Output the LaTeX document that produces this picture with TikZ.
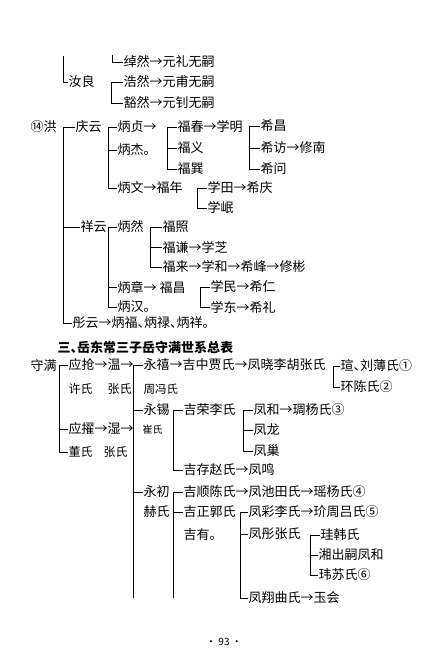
\documentclass[tikz,border=0pt]{standalone}
\usepackage{fontspec}
\setmainfont{Noto Sans CJK SC}
\usepackage{tikz}
\usetikzlibrary{calc}
% half-width enumeration comma
\newcommand\dun{\makebox[0.5em][l]{、}}

\begin{document}
\begin{tikzpicture}[
    x=1pt, y=-1pt,
    font=\fontsize{13}{15}\selectfont,
    % people, wives, bracket lines
    person/.style={anchor=west, inner sep=0.5pt},
    wife/.style={anchor=west, inner sep=0.5pt, font=\fontsize{12}{14}\selectfont},
    link/.style={draw, line width=0.9pt},
]
\useasboundingbox (0,0) rectangle (436,650);

% =========================================================
% Top: continued from the previous page
% =========================================================
\coordinate (topL) at (63,56);
\coordinate (topZ) at (112,55);
\node[person] (rl)  at (68,82)  {汝良};
\node[person] (zr)  at (123,62) {绰然→元礼无嗣};
\node[person] (hr)  at (123,82) {浩然→元甫无嗣};
\node[person] (hor) at (123,103) {豁然→元钊无嗣};

\coordinate (bRu) at (111,82);
\draw[link] (topL) |- (rl.west);
\draw[link] (topZ) |- (zr.west);
\draw[link] (hr.west) -- (bRu) |- (hor.west);

% =========================================================
% (14) Hong
% =========================================================
\node[person] (hong) at (30,127) {⑭洪};
\node[person] (qy) at (75,127) {庆云};
\node[person] (xy) at (80,227) {祥云};
\node[person] (ty) at (72,323) {彤云→炳福\dun 炳禄\dun 炳祥。};
\coordinate (bHong) at (63,127);
\draw[link] (qy.west) -- (bHong) |- (ty.west);
\draw[link] (xy.west) -- (xy.west -| bHong);

% sons of Qingyun
\node[person] (bzh) at (117,127) {炳贞→};
\node[person] (bj)  at (117,150) {炳杰。};
\node[person] (bw)  at (117,188) {炳文→福年};
\coordinate (bQing) at (108,127);
\draw[link] (bzh.west) -- (bQing) |- (bw.west);
\draw[link] (bj.west) -- (bj.west -| bQing);

% sons of Bingzhen
\node[person] (fc) at (177,127) {福春→学明};
\node[person] (fy) at (177,148) {福义};
\node[person] (fx) at (177,169) {福巽};
\coordinate (bFu) at (167,127);
\draw[link] (fc.west) -- (bFu) |- (fx.west);
\draw[link] (fy.west) -- (fy.west -| bFu);

% sons of Xueming
\node[person] (xc) at (260,126) {希昌};
\node[person] (xf) at (260,148) {希访→修南};
\node[person] (xw) at (260,169) {希问};
\coordinate (bXue) at (249,126);
\draw[link] (xc.west) -- (bXue) |- (xw.west);
\draw[link] (xf.west) -- (xf.west -| bXue);

% sons of Funian
\node[person] (xt)  at (207,188) {学田→希庆};
\node[person] (xmi) at (207,208) {学岷};
\coordinate (bNian) at (197,188);
\draw[link] (xt.west) -- (bNian) |- (xmi.west);

% sons of Xiangyun
\node[person] (br)  at (117,227) {炳然};
\node[person] (bzg) at (117,287) {炳章→ 福昌};
\node[person] (bh)  at (117,307) {炳汉。};
\coordinate (bXiang) at (108,227);
\draw[link] (br.west) -- (bXiang) |- (bh.west);
\draw[link] (bzg.west) -- (bzg.west -| bXiang);

% sons of Bingran
\node[person] (fz) at (162,227) {福照};
\node[person] (fq) at (162,247) {福谦→学芝};
\node[person] (fl) at (162,267) {福来→学和→希峰→修彬};
\coordinate (bRan) at (150,227);
\draw[link] (fz.west) -- (bRan) |- (fl.west);
\draw[link] (fq.west) -- (fq.west -| bRan);

% sons of Fuchang
\node[person] (xmn) at (210,287) {学民→希仁};
\node[person] (xd)  at (210,307) {学东→希礼};
\coordinate (bChang) at (200,287);
\draw[link] (xmn.west) -- (bChang) |- (xd.west);

% =========================================================
% Section three: Shouman
% =========================================================
\node[person, font=\fontsize{13}{15}\selectfont\bfseries] (title) at (57,347)
    {三\dun 岳东常三子岳守满世系总表};

\node[person] (sm) at (30,365) {守满};
\node[person] (yq) at (68,365) {应抢→温→};
\node[wife]   (xs) at (68,389) {许氏};
\node[wife]   (zs1) at (107,389) {张氏};
\node[person] (yz) at (68,429) {应擢→湿→};
\node[wife]   (ds) at (68,452) {董氏};
\node[wife]   (zs2) at (103,452) {张氏};
\node[wife, font=\fontsize{10}{12}\selectfont] (cs) at (142,430) {崔氏};
\coordinate (bShou) at (59,365);
\draw[link] (yq.west) -- (bShou) |- (ds.west);
\draw[link] (yz.west) -- (yz.west -| bShou);

% sons of Wen
\node[person] (yx)  at (143,365) {永禧→吉中贾氏→凤晓李胡张氏};
\node[wife, font=\fontsize{11.5}{13}\selectfont] (zf) at (143,389) {周冯氏};
\node[person] (ysi) at (143,410) {永锡};
\node[person] (yc)  at (143,492) {永初};
\node[wife, font=\fontsize{13}{15}\selectfont] (hs) at (143,512) {赫氏};
\coordinate (bWen) at (133,365);
\coordinate (bWenEnd) at (133,598);
\draw[link] (yx.west) -- (bWen) -- (bWenEnd);
\draw[link] (ysi.west) -- (ysi.west -| bWen);
\draw[link] (yc.west) -- (yc.west -| bWen);

% sons of Fengxiao
\node[person] (xuan) at (340,366) {瑄\dun 刘薄氏①};
\node[person] (hc)   at (340,387) {环陈氏②};
\coordinate (bXiao) at (333,366);
\draw[link] (xuan.west) -- (bXiao) |- (hc.west);

% sons of Yongxi
\node[person] (jr) at (183,410) {吉荣李氏};
\node[person] (jc) at (183,470) {吉存赵氏→凤鸣};
\coordinate (bXi) at (173,410);
\draw[link] (jr.west) -- (bXi) |- (jc.west);

% sons of Jirong
\node[person] (fh)  at (253,410) {凤和→琱杨氏③};
\node[person] (flg) at (253,430) {凤龙};
\node[person] (fcb) at (253,451) {凤巢};
\coordinate (bRong) at (243,410);
\draw[link] (fh.west) -- (bRong) |- (fcb.west);
\draw[link] (flg.west) -- (flg.west -| bRong);

% sons of Yongchu
\node[person] (js) at (183,492) {吉顺陈氏→凤池田氏→瑶杨氏④};
\node[person] (jz) at (183,512) {吉正郭氏};
\node[person] (jy) at (183,535) {吉有。};
\coordinate (bChu) at (173,492);
\coordinate (bChuEnd) at (173,598);
\draw[link] (js.west) -- (bChu) -- (bChuEnd);
\draw[link] (jz.west) -- (jz.west -| bChu);

% sons of Jizheng
\node[person] (fcai) at (248,512) {凤彩李氏→玠周吕氏⑤};
\node[person] (ftg)  at (248,534) {凤彤张氏};
\node[person] (fxg)  at (248,598) {凤翔曲氏→玉会};
\coordinate (bZheng) at (240,512);
\draw[link] (fcai.west) -- (bZheng) |- (fxg.west);
\draw[link] (ftg.west) -- (ftg.west -| bZheng);

% sons of Fengtong
\node[person] (gh)  at (320,535) {珪韩氏};
\node[person] (xcs) at (318,555) {湘出嗣凤和};
\node[person] (wsh) at (318,575) {玮苏氏⑥};
\coordinate (bTong) at (310,535);
\draw[link] (gh.west) -- (bTong) |- (wsh.west);
\draw[link] (xcs.west) -- (xcs.west -| bTong);

% page number
\node[font=\fontsize{10}{12}\selectfont] (page) at (224,642) {· 93 ·};
\end{tikzpicture}
\end{document}
